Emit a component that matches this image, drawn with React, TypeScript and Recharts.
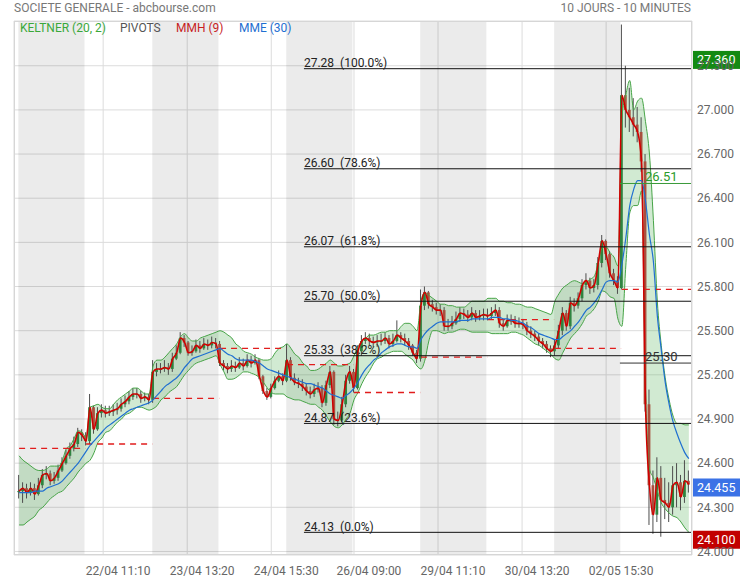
import React from 'react';
import {
  ComposedChart,
  Area,
  Line,
  Bar,
  XAxis,
  YAxis,
  CartesianGrid,
  ReferenceArea,
  ReferenceLine,
} from 'recharts';

// 30-minute points, 17 per session (last session has 18)
const closes = [
  24.41, 24.43, 24.40, 24.43, 24.39, 24.45, 24.52, 24.53, 24.48, 24.50, 24.55, 24.60, 24.65, 24.70, 24.73, 24.81, 24.79,
  24.75, 24.98, 24.83, 24.94, 24.96, 24.94, 24.95, 24.96, 24.97, 25.00, 25.02, 25.05, 25.07, 25.07, 25.04, 25.05, 25.03,
  25.22, 25.24, 25.24, 25.25, 25.24, 25.31, 25.35, 25.45, 25.42, 25.35, 25.36, 25.40, 25.38, 25.41, 25.40, 25.42, 25.41,
  25.28, 25.26, 25.24, 25.26, 25.25, 25.28, 25.26, 25.30, 25.28, 25.30, 25.19, 25.09, 25.05, 25.11, 25.16, 25.19, 25.16,
  25.30, 25.18, 25.15, 25.14, 25.12, 25.09, 25.07, 25.10, 25.11, 25.01, 25.13, 25.22, 24.90, 24.89, 25.00, 25.16, 25.22,
  25.11, 25.36, 25.43, 25.45, 25.43, 25.42, 25.43, 25.43, 25.45, 25.41, 25.43, 25.47, 25.45, 25.43, 25.40, 25.35, 25.31,
  25.67, 25.76, 25.68, 25.66, 25.64, 25.64, 25.53, 25.53, 25.55, 25.58, 25.62, 25.61, 25.59, 25.62, 25.59, 25.60, 25.61,
  25.60, 25.62, 25.64, 25.55, 25.53, 25.57, 25.57, 25.55, 25.55, 25.54, 25.50, 25.48, 25.46, 25.43, 25.41, 25.38, 25.36,
  25.40, 25.50, 25.62, 25.53, 25.69, 25.67, 25.72, 25.81, 25.84, 25.79, 25.81, 25.96, 26.11, 26.02, 25.89, 25.84, 25.79,
  27.10, 27.00, 26.95, 26.90, 26.85, 26.65, 25.00, 24.45, 24.25, 24.50, 24.35, 24.33, 24.30, 24.45, 24.47, 24.37, 24.48, 24.455,
];

const highs = [
  24.52, 24.47, 24.46, 24.47, 24.46, 24.50, 24.56, 24.58, 24.55, 24.54, 24.59, 24.64, 24.69, 24.74, 24.78, 24.84, 24.83,
  24.81, 25.07, 24.99, 24.98, 25.00, 24.99, 24.99, 25.00, 25.01, 25.04, 25.06, 25.09, 25.11, 25.11, 25.09, 25.08, 25.07,
  25.30, 25.28, 25.28, 25.30, 25.28, 25.35, 25.40, 25.49, 25.47, 25.43, 25.40, 25.44, 25.43, 25.45, 25.44, 25.46, 25.45,
  25.43, 25.30, 25.28, 25.30, 25.29, 25.32, 25.31, 25.34, 25.33, 25.34, 25.31, 25.20, 25.11, 25.14, 25.19, 25.23, 25.21,
  25.41, 25.32, 25.21, 25.18, 25.17, 25.14, 25.12, 25.14, 25.15, 25.13, 25.16, 25.26, 25.23, 24.95, 25.05, 25.20, 25.26,
  25.24, 25.40, 25.47, 25.49, 25.48, 25.46, 25.47, 25.48, 25.49, 25.47, 25.48, 25.57, 25.49, 25.48, 25.45, 25.41, 25.37,
  25.78, 25.80, 25.77, 25.71, 25.69, 25.68, 25.66, 25.58, 25.60, 25.63, 25.66, 25.65, 25.64, 25.66, 25.64, 25.64, 25.65,
  25.65, 25.66, 25.68, 25.66, 25.58, 25.61, 25.61, 25.60, 25.59, 25.58, 25.56, 25.53, 25.50, 25.48, 25.45, 25.43, 25.40,
  25.44, 25.54, 25.66, 25.64, 25.73, 25.72, 25.76, 25.85, 25.89, 25.86, 25.85, 26.00, 26.15, 26.12, 26.04, 25.92, 25.87,
  27.58, 27.30, 27.15, 27.08, 27.02, 26.95, 26.70, 25.10, 24.55, 24.64, 24.58, 24.50, 24.47, 24.58, 24.60, 24.52, 24.62, 24.55,
];

const lows = [
  24.36, 24.33, 24.36, 24.38, 24.35, 24.38, 24.43, 24.49, 24.45, 24.46, 24.48, 24.54, 24.59, 24.63, 24.68, 24.71, 24.75,
  24.72, 24.73, 24.80, 24.82, 24.91, 24.91, 24.92, 24.92, 24.93, 24.95, 24.98, 25.00, 25.03, 25.04, 25.01, 25.02, 25.00,
  25.01, 25.19, 25.21, 25.22, 25.20, 25.22, 25.30, 25.34, 25.39, 25.33, 25.33, 25.35, 25.35, 25.37, 25.37, 25.38, 25.38,
  25.26, 25.23, 25.21, 25.22, 25.22, 25.24, 25.23, 25.25, 25.25, 25.27, 25.17, 25.07, 25.03, 25.04, 25.10, 25.15, 25.13,
  25.15, 25.16, 25.13, 25.11, 25.09, 25.06, 25.04, 25.05, 25.08, 24.98, 24.99, 25.11, 24.86, 24.85, 24.88, 24.98, 25.14,
  25.08, 25.10, 25.33, 25.41, 25.40, 25.39, 25.39, 25.40, 25.41, 25.38, 25.39, 25.42, 25.42, 25.40, 25.37, 25.33, 25.28,
  25.29, 25.64, 25.65, 25.63, 25.61, 25.60, 25.50, 25.50, 25.51, 25.54, 25.56, 25.58, 25.56, 25.57, 25.56, 25.57, 25.57,
  25.57, 25.58, 25.60, 25.52, 25.50, 25.52, 25.54, 25.52, 25.52, 25.51, 25.47, 25.45, 25.43, 25.40, 25.38, 25.35, 25.32,
  25.33, 25.38, 25.47, 25.50, 25.51, 25.63, 25.65, 25.70, 25.78, 25.75, 25.76, 25.78, 25.93, 25.98, 25.86, 25.81, 25.75,
  25.78, 26.88, 26.85, 26.82, 26.78, 26.58, 24.95, 24.18, 24.12, 24.20, 24.10, 24.22, 24.20, 24.25, 24.30, 24.28, 24.33, 24.40,
];

// Keltner (20, 2)
const keltnerUpper = [
  24.65, 24.62, 24.60, 24.58, 24.56, 24.55, 24.55, 24.56, 24.58, 24.58, 24.58, 24.62, 24.70, 24.72, 24.77, 24.82, 24.81,
  24.77, 24.98, 24.99, 25.00, 24.98, 24.97, 24.97, 25.00, 25.03, 25.05, 25.07, 25.09, 25.11, 25.11, 25.09, 25.07, 25.07,
  25.26, 25.30, 25.30, 25.32, 25.35, 25.38, 25.41, 25.46, 25.48, 25.45, 25.43, 25.43, 25.45, 25.46, 25.47, 25.48, 25.49,
  25.50, 25.49, 25.47, 25.45, 25.41, 25.39, 25.36, 25.35, 25.34, 25.32, 25.31, 25.30, 25.30, 25.31, 25.35, 25.38, 25.39,
  25.41, 25.38, 25.34, 25.32, 25.28, 25.26, 25.23, 25.23, 25.24, 25.26, 25.28, 25.30, 25.28, 25.26, 25.26, 25.27, 25.28,
  25.33, 25.39, 25.43, 25.45, 25.47, 25.47, 25.48, 25.49, 25.49, 25.50, 25.50, 25.50, 25.53, 25.55, 25.55, 25.53, 25.50,
  25.70, 25.76, 25.74, 25.72, 25.70, 25.68, 25.68, 25.67, 25.67, 25.66, 25.66, 25.66, 25.68, 25.70, 25.70, 25.70, 25.70,
  25.72, 25.72, 25.72, 25.70, 25.70, 25.69, 25.69, 25.68, 25.68, 25.67, 25.66, 25.66, 25.65, 25.64, 25.63, 25.62, 25.61,
  25.70, 25.75, 25.79, 25.81, 25.83, 25.84, 25.83, 25.82, 25.83, 25.85, 25.87, 25.96, 26.06, 26.07, 26.03, 26.00, 25.94,
  26.95, 27.10, 27.20, 27.00, 27.06, 27.08, 26.92, 26.70, 26.25, 25.70, 25.40, 25.18, 25.03, 24.92, 24.87, 24.87, 24.86, 24.86,
];

const keltnerLower = [
  24.18, 24.18, 24.20, 24.22, 24.24, 24.28, 24.30, 24.33, 24.36, 24.38, 24.40, 24.41, 24.44, 24.47, 24.50, 24.54, 24.57,
  24.60, 24.62, 24.67, 24.74, 24.77, 24.81, 24.82, 24.85, 24.88, 24.90, 24.93, 24.94, 24.96, 24.98, 24.98, 24.97, 24.96,
  24.97, 24.99, 25.03, 25.05, 25.08, 25.10, 25.12, 25.16, 25.20, 25.23, 25.26, 25.28, 25.29, 25.30, 25.31, 25.32, 25.33,
  25.27, 25.22, 25.17, 25.17, 25.18, 25.20, 25.22, 25.22, 25.21, 25.20, 25.18, 25.15, 25.11, 25.08, 25.07, 25.07, 25.07,
  25.05, 25.04, 25.03, 25.03, 25.02, 25.01, 25.00, 25.00, 24.98, 24.96, 24.92, 24.88, 24.85, 24.84, 24.86, 24.90, 24.94,
  25.03, 25.08, 25.14, 25.19, 25.23, 25.28, 25.31, 25.32, 25.34, 25.35, 25.36, 25.36, 25.36, 25.34, 25.32, 25.30, 25.26,
  25.24, 25.30, 25.43, 25.50, 25.50, 25.49, 25.48, 25.49, 25.49, 25.50, 25.51, 25.51, 25.50, 25.49, 25.49, 25.49, 25.49,
  25.49, 25.48, 25.48, 25.48, 25.48, 25.48, 25.49, 25.49, 25.48, 25.47, 25.45, 25.43, 25.41, 25.40, 25.38, 25.36, 25.34,
  25.31, 25.30, 25.35, 25.40, 25.45, 25.48, 25.51, 25.55, 25.60, 25.62, 25.65, 25.70, 25.77, 25.76, 25.73, 25.72, 25.58,
  25.53, 25.94, 26.30, 26.35, 26.35, 26.45, 25.10, 24.56, 24.50, 24.41, 24.33, 24.29, 24.26, 24.24, 24.23, 24.20, 24.16, 24.13,
];

// MME (30)
const mme = [
  24.40, 24.40, 24.40, 24.40, 24.41, 24.41, 24.41, 24.43, 24.44, 24.45, 24.46, 24.48, 24.51, 24.54, 24.57, 24.60, 24.64,
  24.68, 24.72, 24.75, 24.78, 24.81, 24.84, 24.86, 24.88, 24.90, 24.92, 24.94, 24.96, 24.97, 24.98, 24.99, 25.00, 25.01,
  25.03, 25.06, 25.09, 25.12, 25.14, 25.16, 25.18, 25.21, 25.25, 25.28, 25.31, 25.32, 25.33, 25.34, 25.35, 25.36, 25.37,
  25.38, 25.36, 25.34, 25.33, 25.31, 25.30, 25.30, 25.30, 25.30, 25.29, 25.28, 25.26, 25.24, 25.23, 25.22, 25.21, 25.20,
  25.19, 25.18, 25.17, 25.16, 25.15, 25.14, 25.14, 25.13, 25.12, 25.11, 25.09, 25.07, 25.06, 25.05, 25.04, 25.06, 25.08,
  25.11, 25.15, 25.20, 25.24, 25.27, 25.30, 25.32, 25.35, 25.37, 25.39, 25.40, 25.41, 25.41, 25.40, 25.39, 25.39, 25.38,
  25.44, 25.48, 25.51, 25.53, 25.55, 25.56, 25.56, 25.56, 25.56, 25.56, 25.57, 25.57, 25.57, 25.58, 25.58, 25.58, 25.58,
  25.58, 25.59, 25.59, 25.59, 25.58, 25.58, 25.57, 25.57, 25.56, 25.55, 25.53, 25.52, 25.50, 25.48, 25.47, 25.46, 25.45,
  25.44, 25.44, 25.46, 25.48, 25.50, 25.53, 25.56, 25.60, 25.64, 25.66, 25.69, 25.73, 25.78, 25.83, 25.84, 25.84, 25.83,
  25.95, 26.13, 26.35, 26.46, 26.52, 26.52, 26.38, 26.15, 25.97, 25.60, 25.37, 25.15, 25.00, 24.88, 24.80, 24.73, 24.67, 24.63,
];

// one pivot per session
const pivots = [24.70, 24.73, 25.04, 25.38, 25.27, 25.08, 25.32, 25.575, 25.38, 25.78];
const sessionStarts = [0, 17, 34, 51, 68, 85, 102, 119, 136, 153];

const fibLevels = [27.28, 26.6, 26.07, 25.7, 25.33, 24.87, 24.13];
const fibPercents = ['100.0%', '78.6%', '61.8%', '50.0%', '38.2%', '23.6%', '0.0%'];

const xTicks = [21.33, 42.67, 64, 85, 106.33, 127.67, 149];
const xTickLabels = ['22/04 11:10', '23/04 13:20', '24/04 15:30', '26/04 09:00', '29/04 11:10', '30/04 13:20', '02/05 15:30'];
const yTicks = [24.0, 24.3, 24.6, 24.9, 25.2, 25.5, 25.8, 26.1, 26.4, 26.7, 27.0, 27.3];

const X_MIN = -1.3;
const X_MAX = 170.8;
const FIB_START = 72.3;
const MARK_START = 152.5;

const data = closes.map((c, i) => ({
  i,
  open: i > 0 ? closes[i - 1] : c,
  close: c,
  high: highs[i],
  low: lows[i],
  upper: keltnerUpper[i],
  lower: keltnerLower[i],
  mme: mme[i],
}));

const FONT = 'Roboto, "Noto Sans", sans-serif';

function Candle(props: any) {
  const { x, y, width, height, payload } = props;
  if (x == null || y == null || !payload) return null;
  const top = Math.min(y, y + height);
  const h = Math.abs(height);
  const span = payload.high - payload.low;
  const k = span > 0 ? h / span : 0;
  const bodyHi = Math.max(payload.open, payload.close);
  const bodyLo = Math.min(payload.open, payload.close);
  const by = top + (payload.high - bodyHi) * k;
  const bh = Math.max(1, (bodyHi - bodyLo) * k);
  const up = payload.close >= payload.open;
  const cx = x + width / 2;
  return (
    <g>
      <line x1={cx} x2={cx} y1={top} y2={top + h} stroke="#4d4d4d" strokeWidth={1} />
      <rect x={cx - 1.4} y={by} width={2.8} height={bh} fill={up ? '#2f8440' : '#a8503e'} />
    </g>
  );
}

function XTick(props: any) {
  const { x, y, payload } = props;
  const idx = xTicks.indexOf(payload.value);
  return (
    <text x={x + 15} y={y} dy="0.71em" textAnchor="middle" fill="#666" fontSize={12} fontFamily={FONT}>
      {xTickLabels[idx]}
    </text>
  );
}

function FibText(props: any) {
  const { viewBox, text, color } = props;
  if (!viewBox) return null;
  return (
    <text
      x={viewBox.x}
      y={viewBox.y - 1.5}
      fill={color || '#222'}
      fontSize={12}
      fontFamily={FONT}
      style={{ whiteSpace: 'pre' }}
    >
      {text}
    </text>
  );
}

function MarkText(props: any) {
  const { viewBox, text, color } = props;
  if (!viewBox) return null;
  return (
    <text x={viewBox.x + 25} y={viewBox.y - 2} fill={color} fontSize={13} fontFamily={FONT}>
      {text}
    </text>
  );
}

function PriceTag(props: any) {
  const { viewBox, text, color } = props;
  if (!viewBox) return null;
  const x = viewBox.x + viewBox.width + 1;
  const y = viewBox.y + 3;
  return (
    <g>
      <rect x={x} y={y - 9} width={48} height={18} fill={color} />
      <text x={x + 4} y={y} dy="0.36em" fill="#fff" fontSize={12.5} fontFamily={FONT}>
        {text}
      </text>
    </g>
  );
}

export default function App() {
  return (
    <div style={{ position: 'absolute', left: 0, top: 0, width: 740, height: 580, background: '#fff', fontFamily: FONT }}>
      <div style={{ position: 'absolute', left: 14, top: 1, fontSize: 12, color: '#777', lineHeight: '14px' }}>
        SOCIETE GENERALE - abcbourse.com
      </div>
      <div style={{ position: 'absolute', left: 0, width: 691, top: 1, fontSize: 12, color: '#777', lineHeight: '14px', textAlign: 'right' }}>
        10 JOURS - 10 MINUTES
      </div>

      <ComposedChart width={740} height={580} data={data} margin={{ top: 21, right: 0, bottom: 0, left: 14 }}>
        <CartesianGrid stroke="#dcdcdc" />
        {sessionStarts
          .filter((_, d) => d % 2 === 0)
          .map((s) => (
            <ReferenceArea key={'day' + s} x1={s - 0.2} x2={s + 16.6} fill="#000" fillOpacity={0.078} stroke="none" />
          ))}
        <XAxis
          type="number"
          dataKey="i"
          domain={[X_MIN, X_MAX]}
          ticks={xTicks}
          interval={0}
          allowDataOverflow
          tick={<XTick />}
          tickLine={false}
          axisLine={false}
          tickSize={0}
          tickMargin={11}
          height={25}
        />
        <YAxis
          orientation="right"
          type="number"
          domain={[23.976, 27.604]}
          ticks={yTicks}
          allowDataOverflow
          tickFormatter={(v: number) => v.toFixed(3)}
          tick={{ fill: '#666', fontSize: 12, fontFamily: FONT }}
          tickLine={false}
          axisLine={false}
          tickSize={0}
          tickMargin={5}
          width={48}
        />

        <Area
          type="monotone"
          dataKey={(d: any) => [d.lower, d.upper]}
          fill="#4caf50"
          fillOpacity={0.26}
          stroke="none"
          isAnimationActive={false}
        />
        <Line type="monotone" dataKey="upper" stroke="#47a447" strokeWidth={1} dot={false} isAnimationActive={false} />
        <Line type="monotone" dataKey="lower" stroke="#47a447" strokeWidth={1} dot={false} isAnimationActive={false} />

        {pivots.map((p, d) => (
          <ReferenceLine
            key={'pv' + d}
            segment={[
              { x: sessionStarts[d], y: p },
              { x: d === pivots.length - 1 ? X_MAX : sessionStarts[d] + 16.8, y: p },
            ]}
            stroke="#e11d1d"
            strokeWidth={1.3}
            strokeDasharray="6 5"
          />
        ))}

        <Bar
          dataKey={(d: any) => [d.low, d.high]}
          barSize={3}
          shape={<Candle />}
          isAnimationActive={false}
        />
        <Line type="monotone" dataKey="close" stroke="#d00000" strokeWidth={1.6} dot={false} isAnimationActive={false} />
        <Line type="monotone" dataKey="mme" stroke="#1f6fd1" strokeWidth={1.2} dot={false} isAnimationActive={false} />

        {fibLevels.map((v, k) => (
          <ReferenceLine
            key={'fib' + k}
            segment={[
              { x: FIB_START, y: v },
              { x: X_MAX, y: v },
            ]}
            stroke="#111"
            strokeWidth={1}
            label={<FibText text={`${v.toFixed(2)}  (${fibPercents[k]})`} />}
          />
        ))}

        <ReferenceLine
          segment={[
            { x: MARK_START, y: 26.5 },
            { x: X_MAX, y: 26.5 },
          ]}
          stroke="#3a9a3a"
          strokeWidth={1}
          label={<MarkText text="26.51" color="#2a9a2a" />}
        />
        <ReferenceLine
          segment={[
            { x: MARK_START, y: 25.28 },
            { x: X_MAX, y: 25.28 },
          ]}
          stroke="#333"
          strokeWidth={1}
          label={<MarkText text="25.30" color="#333" />}
        />

        <ReferenceLine y={27.36} stroke="none" label={<PriceTag text="27.360" color="#138a13" />} />
        <ReferenceLine y={24.455} stroke="none" label={<PriceTag text="24.455" color="#3b72e6" />} />
        <ReferenceLine y={24.1} stroke="none" label={<PriceTag text="24.100" color="#c20000" />} />
      </ComposedChart>

      <div
        style={{
          position: 'absolute',
          left: 14,
          top: 21,
          width: 678,
          height: 534,
          border: '1px solid #d6d6d6',
          boxSizing: 'border-box',
          pointerEvents: 'none',
        }}
      />
      <div style={{ position: 'absolute', left: 0, top: 21, height: 14, width: 400, fontSize: 12, lineHeight: '14px' }}>
        <span style={{ position: 'absolute', left: 20, color: '#3aa83a' }}>KELTNER (20, 2)</span>
        <span style={{ position: 'absolute', left: 120, color: '#555' }}>PIVOTS</span>
        <span style={{ position: 'absolute', left: 176, color: '#c81e1e' }}>MMH (9)</span>
        <span style={{ position: 'absolute', left: 239, color: '#1f6fd1' }}>MME (30)</span>
      </div>
    </div>
  );
}
